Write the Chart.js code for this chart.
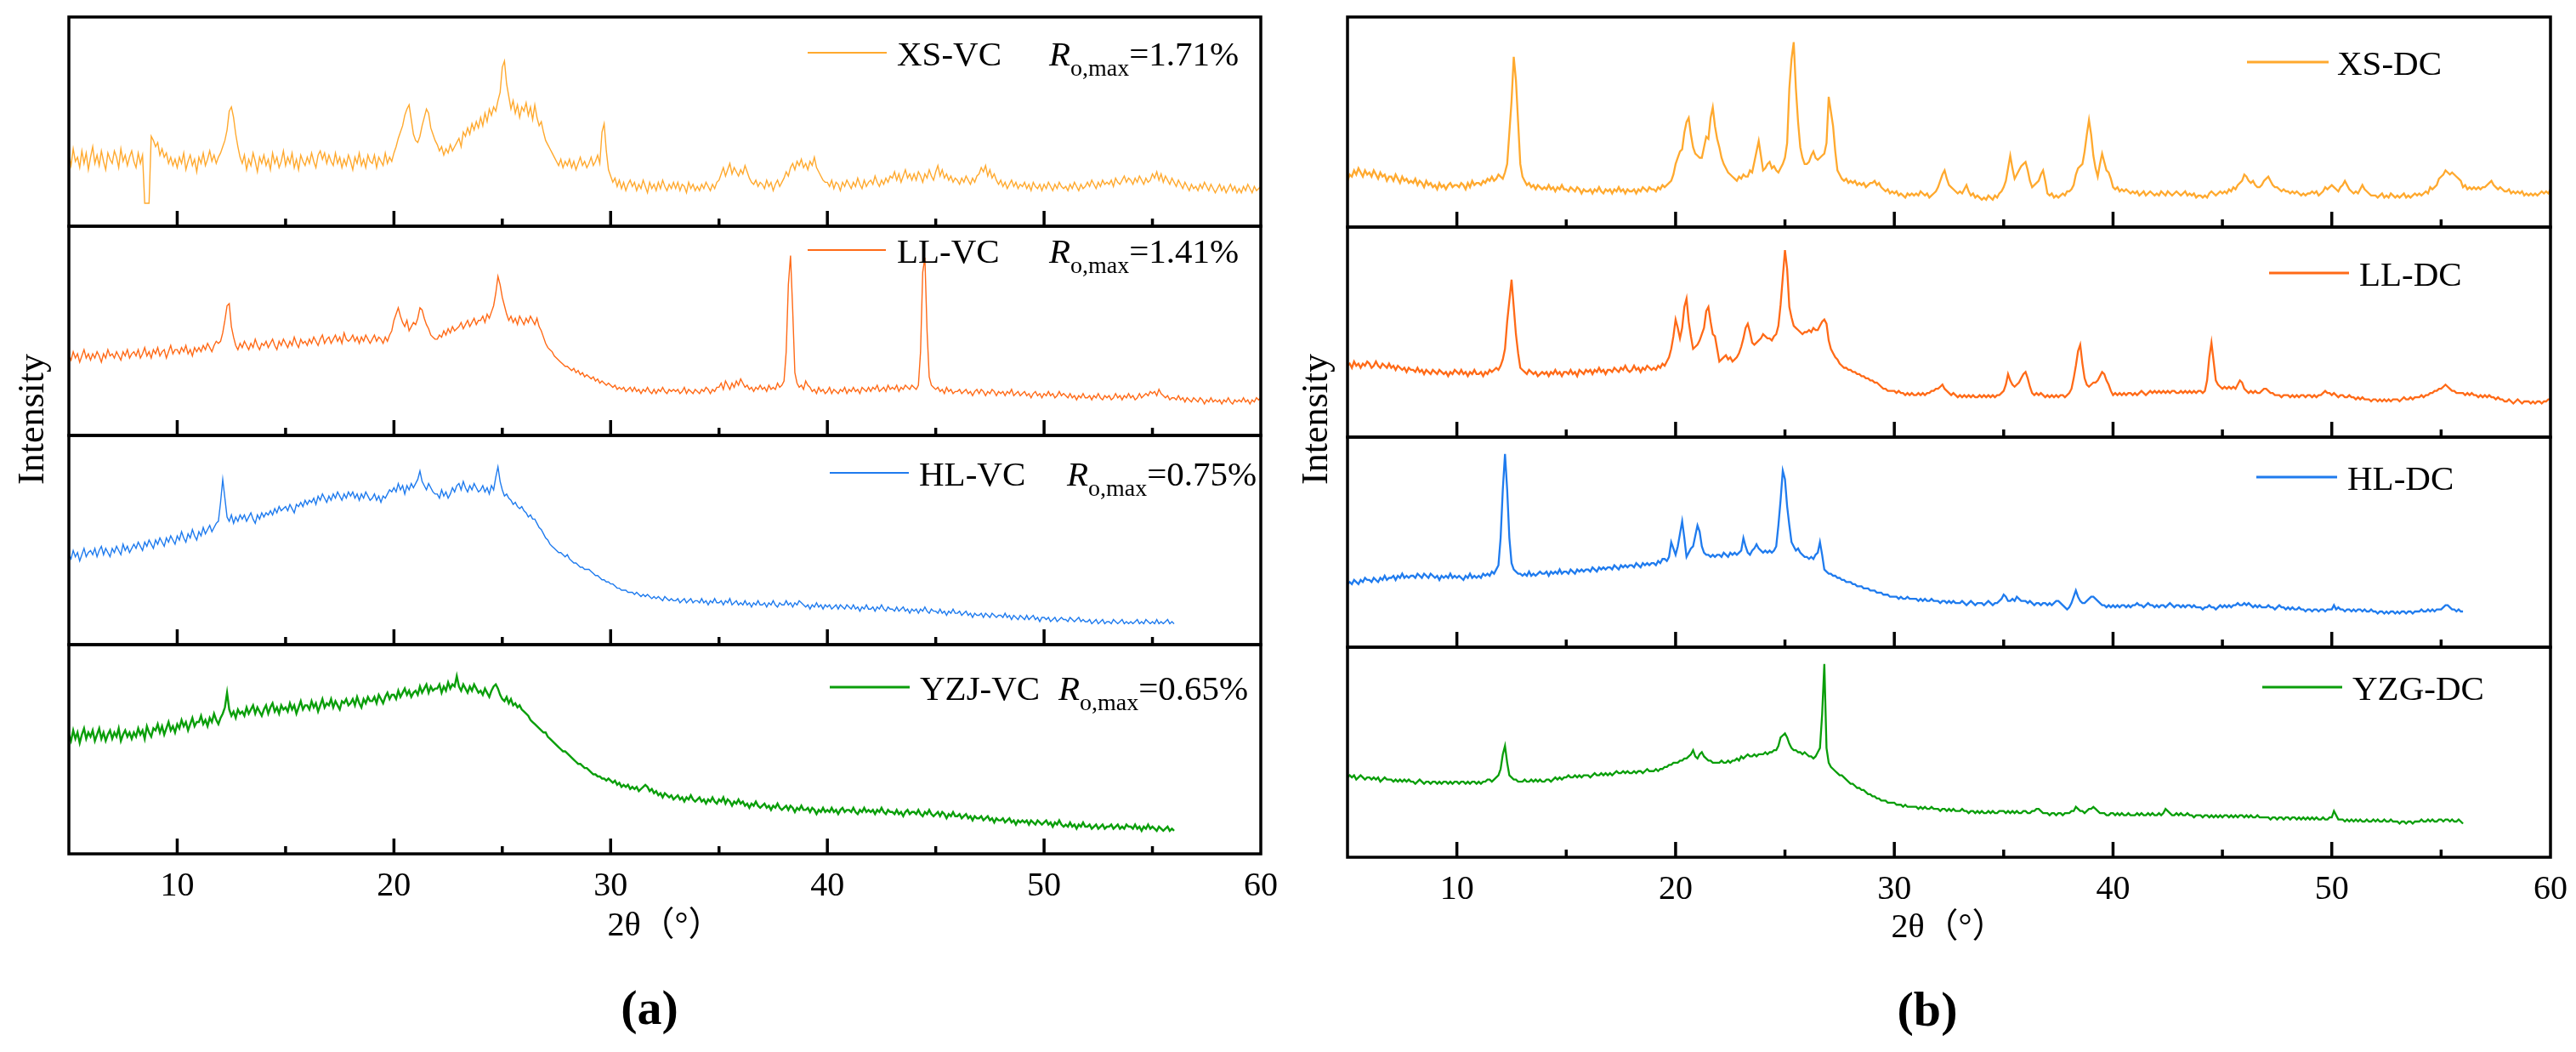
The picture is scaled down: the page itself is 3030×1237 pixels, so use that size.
<!DOCTYPE html>
<html>
<head>
<meta charset="utf-8">
<script src="https://cdn.jsdelivr.net/npm/chart.js@4.4.1/dist/chart.umd.min.js"></script>
<style>
  body { margin: 0; background: #fff; }
  #page { position: relative; width: 3030px; height: 1237px; overflow: hidden;
          font-family: "Liberation Serif", "Times New Roman", "Noto Sans CJK SC", serif; color: #000; }
  canvas { position: absolute; }
  .lbl { position: absolute; white-space: nowrap; line-height: 1; transform: translate(-50%, -50%); }
</style>
</head>
<body>
<div id="page"></div>
<script>
// 2θ positions (degrees), 0.1° steps
const angles = [
  5,5.1,5.2,5.3,5.4,5.5,5.6,5.7,5.8,5.9, 6,6.1,6.2,6.3,6.4,6.5,6.6,6.7,6.8,6.9,
  7,7.1,7.2,7.3,7.4,7.5,7.6,7.7,7.8,7.9, 8,8.1,8.2,8.3,8.4,8.5,8.6,8.7,8.8,8.9,
  9,9.1,9.2,9.3,9.4,9.5,9.6,9.7,9.8,9.9, 10,10.1,10.2,10.3,10.4,10.5,10.6,10.7,10.8,10.9,
  11,11.1,11.2,11.3,11.4,11.5,11.6,11.7,11.8,11.9, 12,12.1,12.2,12.3,12.4,12.5,12.6,12.7,12.8,12.9,
  13,13.1,13.2,13.3,13.4,13.5,13.6,13.7,13.8,13.9, 14,14.1,14.2,14.3,14.4,14.5,14.6,14.7,14.8,14.9,
  15,15.1,15.2,15.3,15.4,15.5,15.6,15.7,15.8,15.9, 16,16.1,16.2,16.3,16.4,16.5,16.6,16.7,16.8,16.9,
  17,17.1,17.2,17.3,17.4,17.5,17.6,17.7,17.8,17.9, 18,18.1,18.2,18.3,18.4,18.5,18.6,18.7,18.8,18.9,
  19,19.1,19.2,19.3,19.4,19.5,19.6,19.7,19.8,19.9, 20,20.1,20.2,20.3,20.4,20.5,20.6,20.7,20.8,20.9,
  21,21.1,21.2,21.3,21.4,21.5,21.6,21.7,21.8,21.9, 22,22.1,22.2,22.3,22.4,22.5,22.6,22.7,22.8,22.9,
  23,23.1,23.2,23.3,23.4,23.5,23.6,23.7,23.8,23.9, 24,24.1,24.2,24.3,24.4,24.5,24.6,24.7,24.8,24.9,
  25,25.1,25.2,25.3,25.4,25.5,25.6,25.7,25.8,25.9, 26,26.1,26.2,26.3,26.4,26.5,26.6,26.7,26.8,26.9,
  27,27.1,27.2,27.3,27.4,27.5,27.6,27.7,27.8,27.9, 28,28.1,28.2,28.3,28.4,28.5,28.6,28.7,28.8,28.9,
  29,29.1,29.2,29.3,29.4,29.5,29.6,29.7,29.8,29.9, 30,30.1,30.2,30.3,30.4,30.5,30.6,30.7,30.8,30.9,
  31,31.1,31.2,31.3,31.4,31.5,31.6,31.7,31.8,31.9, 32,32.1,32.2,32.3,32.4,32.5,32.6,32.7,32.8,32.9,
  33,33.1,33.2,33.3,33.4,33.5,33.6,33.7,33.8,33.9, 34,34.1,34.2,34.3,34.4,34.5,34.6,34.7,34.8,34.9,
  35,35.1,35.2,35.3,35.4,35.5,35.6,35.7,35.8,35.9, 36,36.1,36.2,36.3,36.4,36.5,36.6,36.7,36.8,36.9,
  37,37.1,37.2,37.3,37.4,37.5,37.6,37.7,37.8,37.9, 38,38.1,38.2,38.3,38.4,38.5,38.6,38.7,38.8,38.9,
  39,39.1,39.2,39.3,39.4,39.5,39.6,39.7,39.8,39.9, 40,40.1,40.2,40.3,40.4,40.5,40.6,40.7,40.8,40.9,
  41,41.1,41.2,41.3,41.4,41.5,41.6,41.7,41.8,41.9, 42,42.1,42.2,42.3,42.4,42.5,42.6,42.7,42.8,42.9,
  43,43.1,43.2,43.3,43.4,43.5,43.6,43.7,43.8,43.9, 44,44.1,44.2,44.3,44.4,44.5,44.6,44.7,44.8,44.9,
  45,45.1,45.2,45.3,45.4,45.5,45.6,45.7,45.8,45.9, 46,46.1,46.2,46.3,46.4,46.5,46.6,46.7,46.8,46.9,
  47,47.1,47.2,47.3,47.4,47.5,47.6,47.7,47.8,47.9, 48,48.1,48.2,48.3,48.4,48.5,48.6,48.7,48.8,48.9,
  49,49.1,49.2,49.3,49.4,49.5,49.6,49.7,49.8,49.9, 50,50.1,50.2,50.3,50.4,50.5,50.6,50.7,50.8,50.9,
  51,51.1,51.2,51.3,51.4,51.5,51.6,51.7,51.8,51.9, 52,52.1,52.2,52.3,52.4,52.5,52.6,52.7,52.8,52.9,
  53,53.1,53.2,53.3,53.4,53.5,53.6,53.7,53.8,53.9, 54,54.1,54.2,54.3,54.4,54.5,54.6,54.7,54.8,54.9,
  55,55.1,55.2,55.3,55.4,55.5,55.6,55.7,55.8,55.9, 56,56.1,56.2,56.3,56.4,56.5,56.6,56.7,56.8,56.9,
  57,57.1,57.2,57.3,57.4,57.5,57.6,57.7,57.8,57.9, 58,58.1,58.2,58.3,58.4,58.5,58.6,58.7,58.8,58.9,
  59,59.1,59.2,59.3,59.4,59.5,59.6,59.7,59.8,59.9, 60];

// intensities, % of each strip's height (one row of ten per degree)
const xsVC = [
  34,29,37,31,33,28,36,30,35,27, 33,38,30,34,29,36,31,27,35,32, 30,36,33,28,37,31,34,29,33,36,
  31,28,35,30,34,11,11,11,43,41, 38,40,34,37,33,35,30,33,29,32, 28,33,30,35,27,31,34,29,32,26,
  33,30,35,29,32,36,31,34,30,33, 35,38,41,46,55,57,52,44,38,33, 30,34,27,32,29,35,31,26,33,30,
  34,29,32,27,35,30,33,28,31,36, 29,33,30,35,28,32,27,34,31,29, 33,30,35,31,28,34,36,32,35,30,
  34,31,29,35,30,33,28,32,29,34, 31,27,33,30,35,29,32,28,34,31, 30,34,28,33,31,29,35,30,33,31,
  35,38,42,45,48,53,56,58,51,44, 41,40,43,48,52,56,54,47,44,41, 39,36,38,34,37,35,39,36,38,40,
  42,38,45,43,47,44,49,46,50,47, 52,48,54,50,56,53,57,55,60,64, 76,79,68,62,56,60,54,58,52,57,
  55,59,53,57,51,58,52,48,50,45, 41,39,37,35,33,31,29,32,28,31, 29,32,28,31,27,30,33,29,31,28,
  30,33,29,31,34,30,45,49,36,27, 24,21,23,19,22,18,21,17,20,22, 19,21,17,20,18,22,19,16,21,18,
  20,17,21,18,22,19,17,20,18,21, 18,21,17,20,19,16,21,18,20,17, 19,17,20,18,21,19,17,20,18,21,
  22,25,28,24,27,30,25,28,26,24, 27,25,29,26,23,21,20,22,19,21, 20,18,22,19,21,17,20,22,19,21,
  23,26,24,28,30,27,31,29,32,28, 30,27,31,29,33,28,26,24,22,21, 21,19,22,18,21,20,17,21,19,22,
  20,18,21,19,23,20,18,22,19,21, 22,20,24,21,19,22,20,23,21,24, 23,26,22,25,21,24,27,23,25,22,
  25,22,26,24,21,25,23,27,24,22, 26,29,24,27,23,25,22,24,21,23, 22,20,23,21,24,22,20,23,21,24,
  25,28,26,29,24,27,23,25,22,20, 22,19,21,18,20,22,19,21,18,20, 19,21,18,20,17,21,19,18,20,17,
  20,18,21,19,17,20,18,21,19,18, 19,17,20,18,21,19,17,20,18,19, 21,19,22,20,18,21,19,22,20,21,
  20,22,19,23,21,20,22,24,21,23, 22,20,23,21,24,22,20,23,21,22, 25,23,26,22,25,21,24,22,20,23,
  21,19,22,20,18,21,19,17,20,18, 19,17,20,18,21,19,17,20,18,16, 18,20,17,19,16,18,20,17,19,16,
  18,16,19,17,20,18,16,19,17,18, 19];
const llVC = [
  38,36,40,37,39,35,38,41,37,39, 36,39,37,40,38,35,39,37,41,38, 39,37,40,38,36,40,38,41,37,39,
  40,38,41,37,39,42,38,40,37,41, 39,42,38,40,41,37,40,43,39,41, 41,39,42,40,43,39,41,38,42,40,
  42,40,43,41,44,42,40,43,45,44, 45,49,55,62,63,52,47,43,41,44, 42,45,43,41,44,42,46,43,41,44,
  43,45,42,44,46,43,41,45,43,46, 44,42,45,43,47,44,42,46,44,45, 43,46,44,47,45,43,46,48,44,46,
  47,44,46,48,45,47,44,49,46,45, 46,48,45,47,44,47,45,48,46,44, 46,48,45,47,46,44,47,45,48,50,
  55,58,61,57,54,52,55,50,52,54, 53,56,61,60,56,53,51,48,47,46, 46,48,47,50,48,51,49,52,50,51,
  52,54,51,53,55,52,54,56,53,55, 55,57,54,58,56,59,62,68,76,72, 66,62,58,55,57,54,56,53,57,55,
  53,56,54,57,55,53,56,52,50,47, 44,42,41,40,38,37,36,35,34,33, 33,32,31,32,30,31,29,30,28,29,
  28,27,28,26,27,25,26,25,24,25, 24,23,24,22,23,22,23,21,22,23, 21,23,21,22,20,22,21,23,21,20,
  22,20,22,21,23,21,20,22,21,22, 21,22,20,21,23,20,22,21,20,22, 21,20,22,21,23,22,20,22,21,23,
  23,25,22,26,24,22,25,23,26,24, 27,25,23,24,22,23,21,23,22,24, 22,23,21,24,22,23,22,25,23,24,
  26,40,72,86,60,30,25,23,24,22, 26,24,23,21,22,20,23,21,22,20, 21,23,20,22,21,20,22,21,23,20,
  22,21,23,21,22,20,23,22,21,23, 21,23,22,24,21,22,23,21,24,22, 23,22,24,21,23,22,24,23,22,24,
  23,22,24,40,78,85,50,28,24,23, 22,23,21,22,20,23,21,22,20,21, 21,22,20,21,22,20,21,19,21,22,
  20,22,21,19,21,20,22,21,19,21, 20,21,19,21,20,22,19,20,21,19, 20,21,19,20,18,20,21,19,20,18,
  20,19,21,19,20,18,19,21,19,20, 19,18,20,18,19,17,19,18,20,18, 18,19,17,19,18,20,18,17,19,18,
  19,17,18,20,18,19,17,19,18,20, 18,19,17,18,20,18,19,20,19,21, 20,21,19,22,20,19,18,19,17,18,
  18,17,19,17,18,16,18,17,16,18, 17,16,18,17,15,17,16,18,16,17, 16,17,15,17,16,18,16,15,17,16,
  17,16,18,16,17,15,17,16,18,17, 18];
const hlVC = [
  43,41,45,42,44,40,43,46,42,44, 45,43,46,42,45,47,43,46,44,42, 46,44,47,45,43,48,45,47,44,46,
  48,46,49,47,45,49,47,50,48,46, 50,48,51,49,47,51,49,52,50,48, 52,50,54,51,49,53,51,55,52,50,
  54,52,56,53,55,57,54,56,58,59, 68,79,70,61,59,62,58,61,59,62, 60,62,59,61,63,60,58,62,60,63,
  61,63,62,64,62,65,63,66,64,65, 66,64,67,65,63,67,66,68,66,69, 67,69,68,70,67,71,69,72,70,68,
  71,69,72,70,73,71,69,72,70,73, 71,73,70,72,69,72,70,73,71,69, 70,72,69,71,68,71,70,72,74,73,
  75,73,77,74,76,72,76,74,77,75, 77,79,83,78,76,74,77,75,73,72, 72,70,74,71,73,70,72,75,73,76,
  77,74,78,75,73,76,74,77,75,73, 74,76,73,75,72,76,74,80,85,78, 74,71,72,70,69,67,68,66,65,66,
  64,63,61,62,60,60,58,56,55,53, 51,50,48,47,46,45,44,44,43,42, 43,41,40,39,39,38,37,37,36,36,
  36,35,34,33,33,32,31,31,30,30, 29,29,28,27,27,26,26,26,25,25, 25,24,25,24,23,24,23,24,23,22,
  23,22,23,22,21,23,22,21,22,21, 21,22,20,21,22,20,21,22,20,21, 21,20,22,20,21,19,21,20,22,20,
  20,21,19,21,20,22,19,20,21,19, 20,19,21,19,20,18,20,19,21,19, 19,20,18,20,19,21,19,18,20,19,
  19,21,19,20,18,20,19,21,20,19, 18,19,17,19,18,20,18,19,17,19, 18,19,17,18,19,17,19,18,17,19,
  18,17,19,17,18,16,18,17,19,17, 17,18,16,18,17,19,17,16,18,17, 17,16,18,16,17,18,16,17,15,17,
  16,17,15,17,16,18,16,15,17,16, 16,15,17,15,16,14,16,15,17,15, 15,16,14,15,16,14,15,13,15,14,
  14,15,13,15,14,13,15,14,13,14, 14,13,15,13,14,12,14,13,12,14, 13,12,14,12,13,14,12,13,11,13,
  13,12,13,11,12,13,11,12,13,12, 12,11,13,12,11,12,13,11,12,11, 11,12,10,11,12,10,11,12,10,11,
  11,10,12,11,10,11,12,10,11,10, 11,10,11,12,10,11,10,12,11,10, 11,10,12,10,11,10,11,12,10,11,
  10];
const yzjVC = [
  57,54,59,55,58,53,57,60,55,58, 56,59,54,57,60,55,58,54,57,59, 55,58,56,60,54,57,59,56,58,55,
  58,56,60,57,59,55,61,58,56,60, 59,62,58,61,57,60,63,59,61,58, 62,60,64,61,63,59,62,65,61,63,
  63,66,62,64,61,65,63,67,64,62, 65,67,70,77,69,66,68,65,69,67, 68,66,70,67,69,71,67,70,68,66,
  69,71,67,70,72,68,70,67,71,69, 70,68,72,69,71,67,70,73,69,71, 71,69,73,70,72,68,71,74,70,72,
  71,74,70,73,71,69,73,72,74,71, 72,74,71,75,72,70,74,72,75,73, 73,75,72,76,74,72,75,77,74,76,
  76,74,78,75,77,79,76,78,75,77, 78,76,80,77,79,81,77,80,78,79, 79,81,77,80,78,82,79,81,80,85,
  80,78,81,79,77,80,78,81,79,77, 78,76,79,77,75,78,80,81,79,76, 74,73,75,72,74,71,72,70,71,69,
  68,67,66,64,63,62,61,60,59,58, 58,56,55,54,53,52,51,50,49,49, 48,47,46,45,44,43,43,42,41,41,
  40,39,38,38,37,37,36,36,35,36, 35,34,35,33,34,32,33,32,33,31, 32,31,32,30,31,32,33,32,30,31,
  29,30,28,29,27,29,28,27,28,26, 27,28,26,27,25,27,26,28,26,25, 26,27,25,26,24,26,25,27,25,24,
  26,25,27,24,26,25,23,25,24,26, 24,25,23,24,22,24,23,25,23,22, 23,24,22,23,21,23,22,24,22,21,
  22,23,21,23,22,20,22,21,23,21, 21,22,20,22,21,19,21,20,22,20, 21,20,22,20,21,19,21,22,20,21,
  21,20,22,20,19,21,20,22,20,21, 20,21,19,21,20,22,20,19,21,20, 20,19,21,19,20,18,20,21,19,20,
  20,19,21,19,18,20,19,21,19,18, 19,20,18,20,19,17,19,18,20,18, 18,19,17,18,19,17,18,16,18,17,
  17,18,16,17,18,16,17,15,17,16, 16,17,15,16,17,15,16,14,16,15, 16,15,16,14,16,15,14,16,15,14,
  15,16,14,15,13,15,14,16,14,13, 14,13,15,13,14,12,14,13,15,13, 13,14,12,13,14,12,13,14,12,13,
  13,14,12,13,14,12,13,12,14,13, 13,12,14,12,13,11,13,12,14,12, 13,12,11,13,12,11,12,13,11,12,
  11];
const xsDC = [
  22,25,24,27,25,28,26,24,27,25, 26,24,27,25,23,26,24,25,22,24, 24,22,25,23,21,24,22,23,21,22,
  21,23,20,22,21,19,22,20,21,19, 20,18,21,19,20,18,20,21,19,20, 20,19,21,20,18,21,19,22,20,21,
  21,20,22,21,23,22,24,22,23,25, 24,23,26,30,45,60,81,70,50,30, 24,22,20,21,19,20,18,20,19,18,
  19,18,20,18,19,17,19,18,20,18, 18,17,19,18,17,19,18,16,18,17, 17,18,16,18,17,19,17,16,18,17,
  18,16,18,17,19,17,18,16,18,17, 17,18,16,18,17,19,18,17,19,18, 18,17,19,18,20,19,20,21,22,25,
  30,33,36,37,45,50,52,44,38,35, 34,33,33,38,43,42,52,57,48,42, 38,33,30,28,26,25,24,23,22,24,
  23,25,24,24,27,26,31,36,41,34, 27,28,30,31,28,29,27,26,28,30, 33,40,66,80,88,66,50,38,33,30,
  30,31,34,36,33,32,33,34,35,40, 62,55,48,36,27,25,23,22,23,21, 22,21,22,20,21,20,21,19,20,21,
  21,22,20,21,19,18,17,18,16,17, 16,17,15,16,15,14,16,15,16,15, 16,15,17,16,15,16,14,15,16,17,
  19,22,25,27,23,20,19,18,17,16, 17,16,18,20,17,15,16,14,15,14, 13,14,13,15,14,13,15,14,16,17,
  19,22,28,34,28,23,25,27,29,30, 31,27,22,19,20,21,22,25,27,22, 16,15,16,14,15,14,15,16,15,17,
  17,18,20,25,28,29,30,36,44,51, 44,34,28,24,30,35,31,27,26,23, 19,18,19,17,18,17,18,17,16,17,
  16,17,15,16,17,15,16,17,16,15, 16,15,17,16,15,17,16,15,16,17, 16,15,16,17,15,16,15,16,14,15,
  15,14,15,14,16,17,16,15,16,17, 16,17,16,18,17,19,18,20,21,22, 25,24,22,21,22,20,19,19,20,22,
  23,24,22,20,19,19,18,17,18,17, 17,16,17,16,17,16,15,16,15,16, 16,17,16,17,15,16,17,19,18,19,
  20,19,18,17,19,20,22,20,18,17, 16,17,16,18,20,18,17,16,15,15, 15,14,15,16,14,15,14,16,15,14,
  15,14,15,16,14,15,14,15,16,15, 16,15,16,17,16,19,18,19,20,23, 24,25,27,26,25,26,25,24,23,22,
  19,20,18,19,18,19,18,19,18,19, 19,20,21,22,20,19,18,19,18,17, 17,18,16,17,16,17,16,17,15,16,
  15,16,15,16,15,16,17,16,17,16, 18];
const llDC = [
  34,35,33,36,34,35,33,35,34,36, 35,33,34,36,34,33,35,34,33,35, 33,34,32,34,33,32,33,31,33,32,
  32,31,33,31,32,30,32,31,30,32, 31,30,32,31,30,31,29,31,30,32, 31,30,32,30,31,29,31,30,32,30,
  30,31,29,31,30,32,31,32,33,32, 34,37,42,55,65,75,62,49,40,33, 32,31,30,32,31,30,31,29,30,31,
  30,31,29,31,30,32,30,31,29,31, 31,30,32,30,31,29,32,31,30,32, 31,32,30,32,31,33,31,32,30,32,
  32,31,33,32,31,33,32,34,32,31, 32,34,32,33,31,33,32,34,33,32, 33,32,34,33,35,34,36,38,42,48,
  56,52,47,52,62,66,55,48,42,43, 44,46,49,52,60,62,55,49,48,42, 36,37,38,39,37,38,36,37,38,40,
  43,47,52,54,50,45,44,45,46,47, 49,48,47,47,46,48,49,53,63,76, 89,80,62,57,53,52,51,50,49,50,
  50,51,50,52,51,51,53,55,56,54, 46,42,40,38,37,35,34,33,33,32, 32,31,31,30,30,29,29,28,28,27,
  27,26,26,25,24,23,23,22,22,22, 22,21,22,21,21,20,21,20,21,20, 20,21,20,21,20,21,21,22,22,23,
  23,24,25,23,22,21,20,21,20,19, 20,19,20,19,20,19,20,19,19,20, 19,20,19,20,19,20,19,20,20,21,
  22,25,30,27,25,24,25,26,28,30, 31,28,24,21,20,21,20,21,20,19, 20,19,20,19,20,19,20,20,19,20,
  21,23,28,34,41,44,35,28,25,24, 25,26,26,27,29,31,30,27,25,22, 20,21,20,21,20,21,20,21,21,20,
  21,20,21,22,21,20,21,22,21,22, 21,22,21,22,21,22,21,22,22,21, 21,22,21,22,21,22,21,22,21,22,
  22,21,22,27,38,45,36,27,25,24, 23,24,23,24,23,24,23,25,27,26, 23,22,21,22,21,22,21,21,22,23,
  23,22,21,21,20,20,20,19,20,20, 20,19,20,19,20,19,20,20,19,20, 20,19,20,19,20,20,21,22,21,21,
  20,21,20,19,20,20,19,19,20,19, 19,18,19,18,19,18,18,18,17,18, 18,17,18,17,18,17,18,17,18,18,
  18,17,18,19,18,18,19,18,19,19, 19,20,19,20,20,21,21,22,22,23, 23,24,25,24,23,22,22,21,21,21,
  21,20,21,20,21,20,20,19,20,19, 20,19,20,19,19,18,19,18,18,17, 17,18,17,16,17,18,17,16,17,17,
  17,16,17,16,17,17,16,17,17,18, 18];
const hlDC = [
  30,31,30,32,31,30,32,31,33,32, 32,31,33,32,31,33,32,34,32,33, 33,34,32,34,33,35,33,34,33,34,
  34,33,35,34,33,35,34,33,35,34, 33,34,32,34,33,34,33,35,33,34, 33,34,33,32,34,33,35,33,34,33,
  34,33,35,34,35,34,36,35,37,39, 52,75,92,75,52,40,37,36,35,35, 34,35,34,36,34,35,34,35,36,35,
  35,36,34,36,35,36,35,37,35,36, 36,35,37,36,35,37,36,37,36,37, 37,36,38,37,36,38,37,38,37,38,
  38,37,39,38,37,39,38,39,38,39, 39,38,40,39,38,40,39,40,39,40, 40,39,41,40,42,42,41,43,50,47,
  44,48,54,60,52,43,45,47,48,53, 58,55,48,45,44,44,43,44,43,44, 44,43,45,44,43,45,44,45,44,45,
  46,52,48,45,44,46,47,49,47,46, 45,46,45,46,45,46,48,58,70,84, 80,67,58,50,48,46,47,45,44,43,
  43,42,43,42,44,45,50,44,37,36, 35,35,34,34,33,33,32,32,31,31, 31,30,30,29,29,29,28,28,28,27,
  27,27,26,26,26,25,25,25,24,24, 24,24,23,24,23,23,24,23,23,23, 23,22,23,22,23,22,22,23,22,22,
  22,21,22,22,21,22,21,22,21,21, 21,22,21,20,21,22,21,20,21,21, 21,20,21,22,21,20,21,21,22,23,
  25,24,22,22,23,22,24,23,22,22, 22,21,22,21,20,21,21,20,21,21, 20,21,20,21,22,22,21,20,19,18,
  19,21,24,27,24,22,21,21,22,23, 24,24,23,22,21,20,20,19,20,19, 20,19,20,19,20,20,19,20,19,20,
  20,21,20,20,19,20,21,20,20,19, 20,19,20,20,19,20,21,20,19,20, 20,19,20,19,20,20,19,20,19,19,
  19,18,19,19,20,19,19,18,19,20, 19,20,19,20,19,20,20,21,20,20, 21,20,21,20,19,20,19,20,19,19,
  19,20,19,19,18,19,20,19,19,18, 19,18,19,18,18,19,18,18,17,18, 18,17,18,18,17,18,18,17,18,18,
  18,20,18,19,18,18,17,18,18,17, 18,17,18,18,17,18,17,17,18,17, 17,16,17,17,16,17,16,17,17,16,
  17,16,17,17,16,17,17,16,17,17, 17,18,17,17,18,17,18,17,18,18, 18,19,20,20,19,18,18,17,18,17,
  17];
const yzgDC = [
  38,39,38,39,37,38,39,38,37,38, 38,37,38,37,38,36,37,38,37,37, 37,36,37,36,37,36,37,36,37,36,
  36,35,36,37,36,35,36,36,35,36, 36,35,36,35,36,36,35,36,35,36, 36,35,36,36,35,36,35,36,36,35,
  36,35,36,36,37,37,36,37,38,39, 42,49,53,45,39,38,37,37,36,36, 36,37,36,36,37,36,37,36,37,36,
  36,37,37,36,37,38,37,38,37,38, 38,39,38,38,39,38,39,38,39,39, 39,38,39,40,39,39,40,39,40,39,
  40,39,40,41,40,40,41,40,41,40, 40,41,40,41,41,40,41,42,41,41, 41,42,41,42,42,43,43,44,44,45,
  45,45,46,46,47,47,48,49,51,48, 47,49,50,48,47,46,46,45,45,45, 45,46,45,45,46,45,46,46,47,46,
  48,47,48,49,48,48,49,48,49,49, 49,50,49,50,50,51,51,53,57,58, 59,57,54,52,51,51,50,50,49,50,
  49,48,48,47,48,50,52,68,92,52, 45,43,42,41,40,39,39,38,37,36, 35,35,34,33,33,32,32,31,30,30,
  29,29,28,28,27,27,27,26,26,26, 26,25,25,25,24,25,24,24,24,24, 24,23,24,23,24,23,23,24,23,23,
  23,22,23,23,22,23,22,23,22,22, 22,23,22,22,21,22,22,21,22,21, 22,21,21,22,21,22,21,21,22,22,
  22,21,22,21,22,21,22,21,21,22, 22,21,21,22,22,23,23,22,21,21, 21,20,21,21,20,21,21,20,21,21,
  21,22,22,24,23,22,22,21,22,23, 23,24,23,22,21,21,21,20,20,21, 21,20,21,20,21,20,20,21,20,20,
  20,21,20,21,20,20,21,20,21,20, 20,21,20,21,23,22,21,20,20,21, 20,21,20,20,21,20,20,19,20,20,
  20,19,20,20,19,20,19,20,19,20, 19,20,20,19,20,19,20,19,20,20, 19,20,19,20,19,19,20,19,19,19,
  19,19,18,19,19,18,19,19,18,19, 19,18,19,19,18,19,18,19,18,19, 18,19,18,19,18,18,19,18,18,19,
  19,22,20,18,18,18,17,18,17,18, 17,18,17,18,17,17,18,17,17,18, 17,18,17,17,18,17,17,18,17,17,
  17,16,17,17,16,17,17,16,17,17, 17,18,17,17,18,17,18,17,17,18, 18,17,18,18,17,18,17,17,18,17,
  16];

const tickLabels = [10, 20, 30, 40, 50, 60];
const majorTicks = [10, 20, 30, 40, 50];
const minorTicks = [15, 25, 35, 45, 55];
const vcNames = ["XS-VC", "LL-VC", "HL-VC", "YZJ-VC"];
const dcNames = ["XS-DC", "LL-DC", "HL-DC", "YZG-DC"];
const roMax = ["1.71%", "1.41%", "0.75%", "0.65%"];

const colors = ["#FFA92E", "#FF6A17", "#1F7BEE", "#0A9E0A"];
const FONT = '"Liberation Serif", "Times New Roman", serif';
const PADX = 40, PADY = 12, AXIS_H = 72;

// page layout of the two panels (pixels)
const panels = [
  { left: 81, right: 1483, tops: [20, 266, 512, 758, 1004],
    series: [xsVC, llVC, hlVC, yzjVC], names: vcNames, ro: roMax,
    widths: [1.4, 1.4, 1.4, 2.4],
    legends: [ { x1: 950, x2: 1043, y: 62, tx: 1055, rx: 1234 },
               { x1: 950, x2: 1042, y: 294, tx: 1055, rx: 1234 },
               { x1: 976, x2: 1069, y: 556, tx: 1081, rx: 1255 },
               { x1: 976, x2: 1070, y: 808, tx: 1082, rx: 1245 } ] },
  { left: 1585, right: 3000, tops: [20, 267, 514, 761, 1008],
    series: [xsDC, llDC, hlDC, yzgDC], names: dcNames, ro: null,
    widths: [2.3, 2.3, 2.3, 2.3],
    legends: [ { x1: 2643, x2: 2739, y: 73, tx: 2749 },
               { x1: 2669, x2: 2763, y: 321, tx: 2775 },
               { x1: 2654, x2: 2749, y: 561, tx: 2761 },
               { x1: 2661, x2: 2755, y: 808, tx: 2767 } ] }
];

const framePlugin = {
  id: 'frame',
  afterDatasetsDraw(chart, args, opts) {
    const ctx = chart.ctx, a = chart.chartArea, x = chart.scales.x;
    ctx.save();
    ctx.strokeStyle = '#000';
    ctx.lineWidth = 3.5;
    ctx.strokeRect(a.left, a.top, a.right - a.left, a.bottom - a.top);
    majorTicks.forEach(v => {
      const px = x.getPixelForValue(v);
      ctx.beginPath(); ctx.moveTo(px, a.bottom); ctx.lineTo(px, a.bottom - 18); ctx.stroke();
    });
    minorTicks.forEach(v => {
      const px = x.getPixelForValue(v);
      ctx.beginPath(); ctx.moveTo(px, a.bottom); ctx.lineTo(px, a.bottom - 9); ctx.stroke();
    });

    // legend entry + Ro,max note
    const lg = opts.entry;
    const ds = chart.data.datasets[0];
    ctx.strokeStyle = ds.borderColor;
    ctx.lineWidth = ds.borderWidth + 0.6;
    ctx.beginPath(); ctx.moveTo(lg.x1, lg.y); ctx.lineTo(lg.x2, lg.y); ctx.stroke();
    ctx.fillStyle = '#000';
    ctx.textAlign = 'left';
    ctx.textBaseline = 'alphabetic';
    ctx.font = '41px ' + FONT;
    ctx.fillText(ds.label, lg.tx, lg.y + 15);
    if (lg.ro) {
      let px = lg.rx;
      ctx.font = 'italic 41px ' + FONT;
      ctx.fillText('R', px, lg.y + 15);
      px += ctx.measureText('R').width;
      ctx.font = '28px ' + FONT;
      ctx.fillText('o,max', px, lg.y + 27);
      px += ctx.measureText('o,max').width;
      ctx.font = '41px ' + FONT;
      ctx.fillText('=' + lg.ro, px, lg.y + 15);
    }
    ctx.restore();
  }
};

const page = document.getElementById('page');

panels.forEach(p => {
  for (let i = 0; i < 4; i++) {
    const last = i === 3;
    const top = p.tops[i], bottom = p.tops[i + 1];
    const cLeft = p.left - PADX, cTop = top - PADY;
    const w = p.right - p.left + 2 * PADX;
    const h = bottom - top + PADY + (last ? AXIS_H : PADY);
    const canvas = document.createElement('canvas');
    canvas.width = w; canvas.height = h;
    canvas.style.left = cLeft + 'px'; canvas.style.top = cTop + 'px';
    canvas.style.width = w + 'px'; canvas.style.height = h + 'px';
    page.appendChild(canvas);

    const L = p.legends[i];
    const entry = { x1: L.x1 - cLeft, x2: L.x2 - cLeft, y: L.y - cTop, tx: L.tx - cLeft,
                    rx: L.rx ? L.rx - cLeft : 0, ro: p.ro ? p.ro[i] : '' };
    const vals = p.series[i];

    new Chart(canvas, {
      type: 'line',
      data: {
        datasets: [{
          label: p.names[i],
          data: vals.map((v, k) => ({ x: angles[k], y: v })),
          borderColor: colors[i],
          borderWidth: p.widths[i],
          pointRadius: 0,
          tension: 0,
          fill: false
        }]
      },
      options: {
        responsive: false,
        animation: false,
        devicePixelRatio: 1,
        layout: { padding: { left: PADX, right: PADX, top: PADY, bottom: last ? 0 : PADY } },
        plugins: { legend: { display: false }, tooltip: { enabled: false }, frame: { entry: entry } },
        scales: {
          x: {
            type: 'linear', min: 5, max: 60, display: last,
            afterBuildTicks: s => { s.ticks = tickLabels.map(v => ({ value: v })); },
            afterFit: s => { if (last) s.height = AXIS_H; },
            grid: { display: false, drawTicks: false },
            border: { display: false },
            ticks: { color: '#000', font: { family: FONT, size: 40 }, padding: 14,
                     maxRotation: 0, autoSkip: false }
          },
          y: { min: 0, max: 100, display: false }
        }
      },
      plugins: [framePlugin]
    });
  }
});

// axis titles and panel letters
function label(text, x, y, size, extra) {
  const d = document.createElement('div');
  d.className = 'lbl';
  d.textContent = text;
  d.style.left = x + 'px';
  d.style.top = y + 'px';
  d.style.fontSize = size + 'px';
  if (extra) Object.assign(d.style, extra);
  page.appendChild(d);
}
label('Intensity', 37, 493, 44, { transform: 'translate(-50%, -50%) rotate(-90deg)' });
label('Intensity', 1547, 493, 44, { transform: 'translate(-50%, -50%) rotate(-90deg)' });
label('2θ（°）', 782, 1087, 40);
label('2θ（°）', 2292, 1089, 40);
label('(a)', 764, 1185, 58, { fontWeight: 'bold' });
label('(b)', 2267, 1187, 58, { fontWeight: 'bold' });
</script>
</body>
</html>
